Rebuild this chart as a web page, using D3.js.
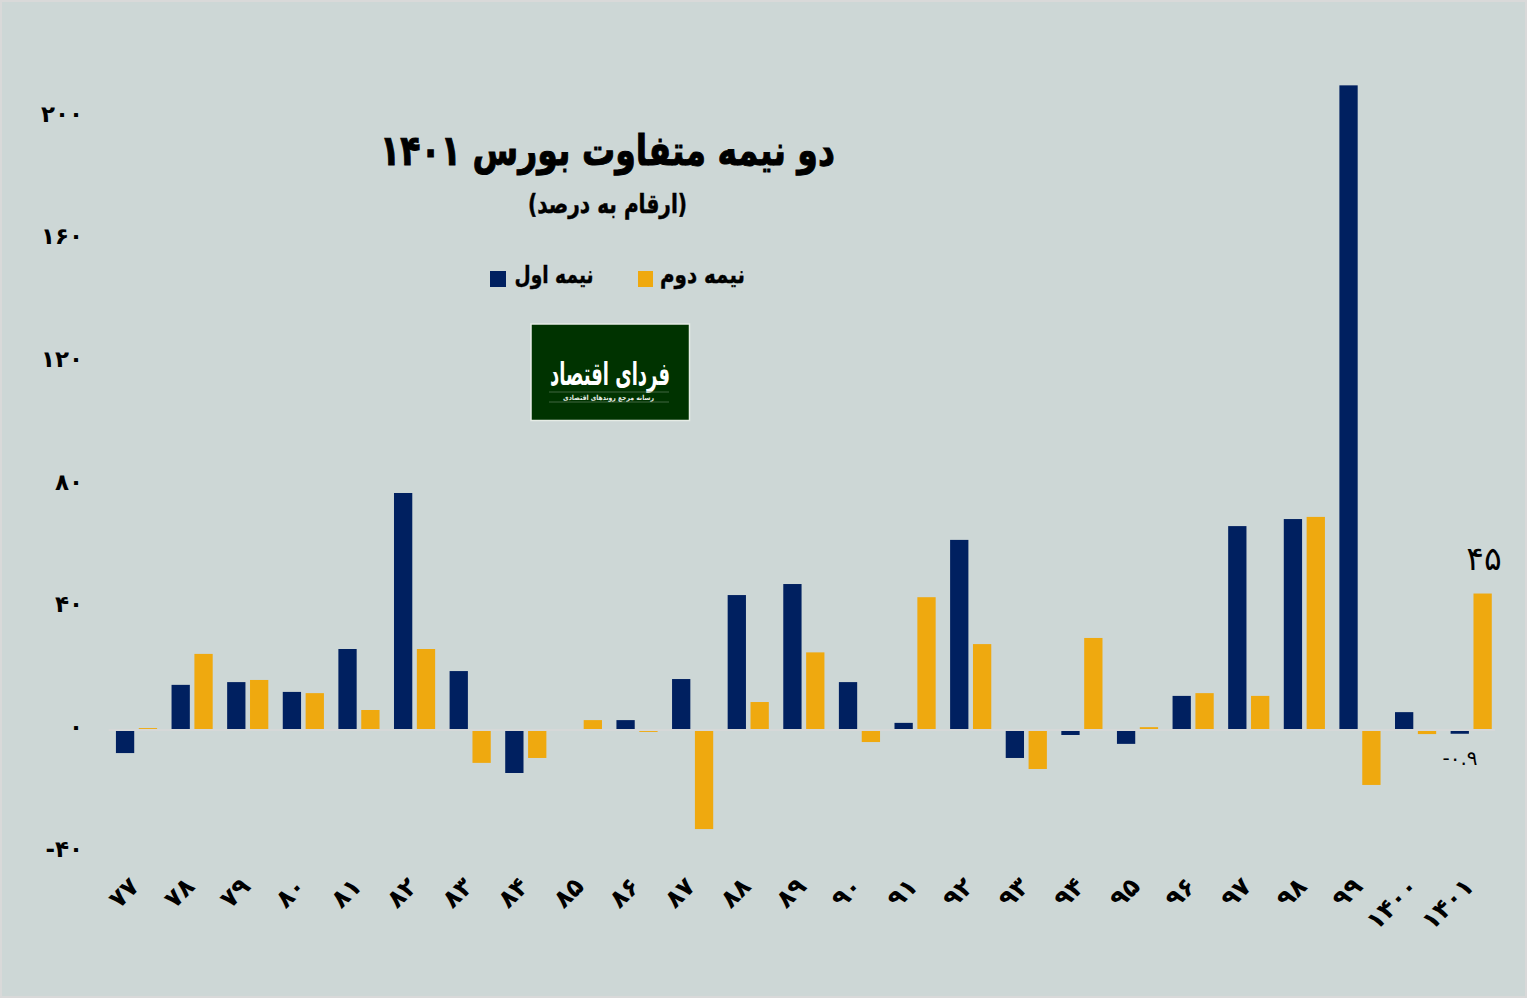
<!DOCTYPE html>
<html>
<head>
<meta charset="utf-8">
<script src="https://cdn.jsdelivr.net/npm/d3@7"></script>
<style>
  html, body { margin: 0; padding: 0; background: #cdd7d6; }
  svg { display: block; }
  text { font-family: "DejaVu Sans", sans-serif; fill: #000; }
</style>
</head>
<body>
<script>
const years = ["۷۷","۷۸","۷۹","۸۰","۸۱","۸۲","۸۳","۸۴","۸۵","۸۶","۸۷","۸۸","۸۹","۹۰","۹۱","۹۲","۹۳","۹۴","۹۵","۹۶","۹۷","۹۸","۹۹","۱۴۰۰","۱۴۰۱"];
const firstHalf = [-7.2,14.4,15.3,12.1,26.1,77,18.9,-13.7,0,2.9,16.3,43.7,47.3,15.3,2,61.7,-8.8,-1.3,-4.2,10.8,66.2,68.5,210,5.5,-0.9];
const secondHalf = [0.3,24.5,16,11.7,6.2,26.1,-10.4,-8.8,2.9,-0.3,-32,8.8,25,-3.6,43,27.7,-12.4,29.7,0.6,11.7,10.8,69.2,-17.6,-1,44.2];
const yTicks = [-40,0,40,80,120,160,200];
const yTickLabels = ["-۴۰","۰","۴۰","۸۰","۱۲۰","۱۶۰","۲۰۰"];
const seriesNames = ["نیمه اول","نیمه دوم"];
const seriesColors = ["#002060","#efa90f"];

const width = 1527, height = 998;

const svg = d3.select("body").append("svg")
  .attr("width", width)
  .attr("height", height);

// outer frame
svg.append("rect")
  .attr("x", 1).attr("y", 1)
  .attr("width", width - 2).attr("height", height - 2)
  .attr("fill", "#cdd7d6")
  .attr("stroke", "#d9d9d9").attr("stroke-width", 2);

const xScale = d3.scaleBand().domain(years).range([108.7, 1499]).paddingInner(0.26).paddingOuter(0.13);
const x1 = d3.scaleBand().domain([0, 1]).range([0, xScale.bandwidth()]).paddingInner(0.2);
const yScale = d3.scaleLinear().domain([-40, 200]).range([852.6, 117]);
const y0 = yScale(0);

[firstHalf, secondHalf].forEach(function(values, s) {
  svg.append("g").selectAll("rect").data(values).enter().append("rect")
    .attr("x", (d, i) => xScale(years[i]) + x1(s))
    .attr("y", d => d >= 0 ? yScale(d) - 1 : y0 + 1)
    .attr("width", x1.bandwidth())
    .attr("height", d => Math.abs(yScale(d) - y0))
    .attr("fill", seriesColors[s]);
});

// zero line
svg.append("line")
  .attr("x1", 108.7).attr("x2", 1495)
  .attr("y1", y0).attr("y2", y0)
  .attr("stroke", "#d6d8d8").attr("stroke-width", 2);

// Y axis
const yAxis = svg.append("g")
  .attr("transform", "translate(83,-3)")
  .call(d3.axisLeft(yScale).tickValues(yTicks).tickSize(0).tickPadding(0)
    .tickFormat((d, i) => yTickLabels[i]));
yAxis.select(".domain").remove();
yAxis.selectAll("text")
  .attr("direction", "ltr")
  .style("unicode-bidi", "plaintext")
  .attr("font-size", 23)
  .attr("font-weight", "bold")
  .style("font-family", '"DejaVu Sans", sans-serif');

// X axis
const xAxis = svg.append("g")
  .attr("transform", "translate(0,872)")
  .call(d3.axisBottom(xScale).tickSize(0).tickPadding(0));
xAxis.select(".domain").remove();
xAxis.selectAll("text")
  .attr("font-size", 25)
  .attr("font-weight", "bold")
  .style("font-family", '"DejaVu Sans", sans-serif')
  .attr("text-anchor", "end")
  .attr("direction", "ltr")
  .attr("dy", 0)
  .attr("transform", "translate(4,16) rotate(-45)");

// squeeze a text horizontally so it takes the width it has in the picture
function fitText(cx, y, w, size, label) {
  const t = svg.append("text")
    .attr("text-anchor", "middle")
    .attr("font-size", size)
    .attr("font-weight", "bold")
    .text(label);
  const len = t.node().getComputedTextLength();
  t.attr("transform", "translate(" + cx + "," + y + ") scale(" + (w / len) + ",1)");
  return t;
}

// title
fitText(607.5, 165, 455, 42, "دو نیمه متفاوت بورس ۱۴۰۱").style("stroke", "#000").style("stroke-width", 1);
fitText(607.5, 213, 159, 26, "(ارقام به درصد)").style("stroke", "#000").style("stroke-width", 0.5);

// legend
const legendRectX = [490, 638], legendRectW = [16, 15];
const legendTextCx = [554, 702.5], legendTextW = [79, 85];
seriesNames.forEach(function(name, s) {
  svg.append("rect").attr("x", legendRectX[s]).attr("y", 271).attr("width", legendRectW[s]).attr("height", 16).attr("fill", seriesColors[s]);
  fitText(legendTextCx[s], 283, legendTextW[s], 24, name).style("stroke", "#000").style("stroke-width", 0.4);
});

// logo
svg.append("rect").attr("x", 531).attr("y", 324).attr("width", 158.5).attr("height", 96.5)
  .attr("fill", "#003300").attr("stroke", "#e6ece6").attr("stroke-width", 1.5);
fitText(610, 385, 120, 32, "فردای اقتصاد").style("fill", "#fff");
[392, 402].forEach(function(ly) {
  svg.append("line").attr("x1", 549).attr("x2", 669).attr("y1", ly).attr("y2", ly)
    .attr("stroke", "#5d7d5d").attr("stroke-width", 0.7);
});
fitText(608.5, 400, 91, 7, "رسانه مرجع روندهای اقتصادی").style("fill", "#e8efe8");

// value labels
svg.append("text").attr("x", 1484).attr("y", 570)
  .attr("text-anchor", "middle").attr("font-size", 33).text("۴۵");
svg.append("text").attr("x", 1460).attr("y", 765)
  .attr("text-anchor", "middle").attr("direction", "ltr").attr("font-size", 20).text("-۰.۹");
</script>
</body>
</html>
